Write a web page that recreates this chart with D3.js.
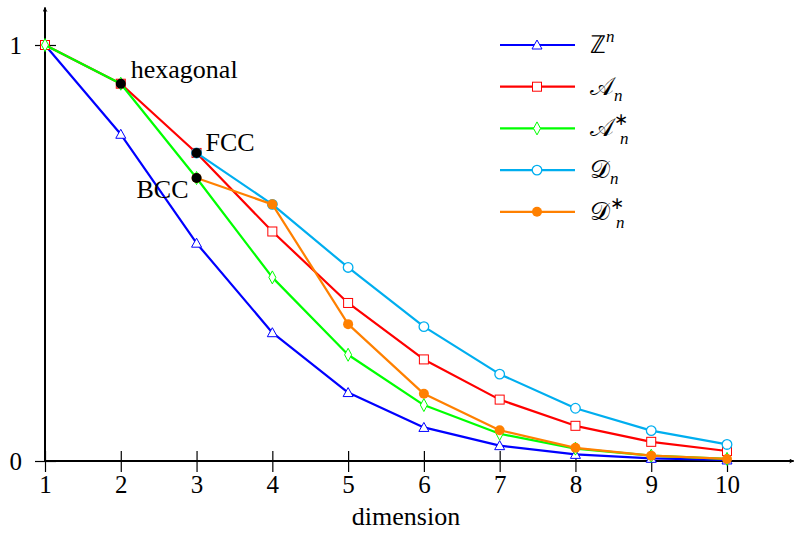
<!DOCTYPE html>
<html>
<head>
<meta charset="utf-8">
<script src="https://cdn.jsdelivr.net/npm/d3@7"></script>
<style>
  body { margin: 0; background: #fff; }
</style>
</head>
<body>
<div id="chart"></div>
<script>
// packing density per dimension
const dims = [1, 2, 3, 4, 5, 6, 7, 8, 9, 10];
const zn     = [1, 0.7854, 0.5236, 0.3084, 0.1645, 0.0807, 0.0369, 0.0159, 0.0064, 0.0025];
const an     = [1, 0.9069, 0.7405, 0.5517, 0.3799, 0.2442, 0.1476, 0.0846, 0.0461, 0.0240];
const anStar = [1, 0.9069, 0.6802, 0.4414, 0.2554, 0.1345, 0.0654, 0.0297, 0.0127, 0.0051];
const dnDims = [3, 4, 5, 6, 7, 8, 9, 10];
const dn     = [0.7405, 0.6169, 0.4653, 0.3230, 0.2088, 0.1268, 0.0729, 0.0398];
const dnStar = [0.6802, 0.6169, 0.3290, 0.1615, 0.0738, 0.0317, 0.0129, 0.0050];
const xTicks = [1, 2, 3, 4, 5, 6, 7, 8, 9, 10];
const yTicks = [0, 1];
const special = [
  {x: 2, y: 0.9069, label: "hexagonal"},
  {x: 3, y: 0.7405, label: "FCC"},
  {x: 3, y: 0.6802, label: "BCC"}
];

const series = [
  {name: "ℤ", sup: "n", sub: "", xs: dims, ys: zn, color: "#0000ff", marker: "triangle"},
  {name: "𝒜", sup: "", sub: "n", xs: dims, ys: an, color: "#ff0000", marker: "square"},
  {name: "𝒜", sup: "∗", sub: "n", xs: dims, ys: anStar, color: "#00ff00", marker: "diamond"},
  {name: "𝒟", sup: "", sub: "n", xs: dnDims, ys: dn, color: "#00aeef", marker: "circle"},
  {name: "𝒟", sup: "∗", sub: "n", xs: dnDims, ys: dnStar, color: "#ff8000", marker: "dot"}
];

const serif = "'Liberation Serif', 'Times New Roman', serif";
const width = 794, height = 533;
const svg = d3.select("#chart").append("svg")
  .attr("width", width).attr("height", height);

const x = d3.scaleLinear().domain([1, 10]).range([45, 727]);
const y = d3.scaleLinear().domain([0, 1]).range([461, 45]);

// axes
svg.append("defs").append("marker")
  .attr("id", "arrow").attr("viewBox", "0 0 10 10")
  .attr("refX", 9).attr("refY", 5)
  .attr("markerWidth", 5).attr("markerHeight", 5)
  .attr("markerUnits", "userSpaceOnUse")
  .attr("orient", "auto")
  .append("path").attr("d", "M0,0 L10,5 L0,10 L3,5 Z").attr("fill", "#000");

svg.append("line")
  .attr("x1", x(1)).attr("x2", x(10.88))
  .attr("y1", y(0)).attr("y2", y(0))
  .attr("stroke", "#000").attr("stroke-width", 2)
  .attr("marker-end", "url(#arrow)");
svg.append("line")
  .attr("x1", x(1)).attr("x2", x(1))
  .attr("y1", y(0)).attr("y2", y(1.09))
  .attr("stroke", "#000").attr("stroke-width", 2)
  .attr("marker-end", "url(#arrow)");

const xAxis = d3.axisBottom(x).tickValues(xTicks).tickSize(0).tickPadding(0);
const gx = svg.append("g").attr("transform", `translate(0,${y(0)})`).call(xAxis);
gx.select(".domain").remove();
gx.selectAll(".tick line").attr("y1", -10).attr("y2", 11).attr("stroke", "#000").attr("stroke-width", 1.2);
gx.selectAll(".tick text")
  .attr("y", 32).attr("dy", null)
  .attr("font-size", 25).attr("fill", "#000")
  .style("font-family", serif);

const yAxis = d3.axisLeft(y).tickValues(yTicks).tickSize(0).tickPadding(0).tickFormat(d3.format("d"));
const gy = svg.append("g").attr("transform", `translate(${x(1)},0)`).call(yAxis);
gy.select(".domain").remove();
gy.selectAll(".tick line").attr("x1", -10).attr("x2", 11).attr("stroke", "#000").attr("stroke-width", 1.2);
gy.selectAll(".tick text")
  .attr("x", -23).attr("dy", "0.34em")
  .attr("font-size", 25).attr("fill", "#000")
  .style("font-family", serif);

svg.append("text")
  .attr("x", 406).attr("y", 525)
  .attr("text-anchor", "middle").attr("font-size", 26)
  .style("font-family", serif)
  .text("dimension");

// marker drawing
function drawMarker(g, type, color, cx, cy) {
  if (type === "triangle") {
    g.append("path").attr("d", `M${cx},${cy - 5} L${cx + 5},${cy + 4} L${cx - 5},${cy + 4} Z`)
      .attr("fill", "#fff").attr("stroke", color).attr("stroke-width", 1);
  } else if (type === "square") {
    g.append("rect").attr("x", cx - 4.5).attr("y", cy - 4.5).attr("width", 9).attr("height", 9)
      .attr("fill", "#fff").attr("stroke", color).attr("stroke-width", 1);
  } else if (type === "diamond") {
    g.append("path").attr("d", `M${cx},${cy - 6.5} L${cx + 3.5},${cy} L${cx},${cy + 6.5} L${cx - 3.5},${cy} Z`)
      .attr("fill", "#fff").attr("stroke", color).attr("stroke-width", 1);
  } else if (type === "circle") {
    g.append("circle").attr("cx", cx).attr("cy", cy).attr("r", 4.8)
      .attr("fill", "#fff").attr("stroke", color).attr("stroke-width", 1.3);
  } else {
    g.append("circle").attr("cx", cx).attr("cy", cy).attr("r", 5)
      .attr("fill", color);
  }
}

const line = d3.line().x(d => x(d[0])).y(d => y(d[1]));

series.forEach(s => {
  const pts = s.xs.map((v, i) => [v, s.ys[i]]);
  const g = svg.append("g");
  g.append("path").attr("d", line(pts))
    .attr("fill", "none").attr("stroke", s.color).attr("stroke-width", 2.2)
    .attr("stroke-linejoin", "round");
  pts.forEach(p => drawMarker(g, s.marker, s.color, x(p[0]), y(p[1])));
});

// named lattices
special.forEach(p => {
  svg.append("circle").attr("cx", x(p.x)).attr("cy", y(p.y)).attr("r", 5).attr("fill", "#000");
});
const labelPos = {
  hexagonal: {dx: 10, dy: -6, anchor: "start"},
  FCC: {dx: 9, dy: -2, anchor: "start"},
  BCC: {dx: -8, dy: 20, anchor: "end"}
};
special.forEach(p => {
  const o = labelPos[p.label];
  svg.append("text").attr("x", x(p.x) + o.dx).attr("y", y(p.y) + o.dy)
    .attr("text-anchor", o.anchor).attr("font-size", 26)
    .style("font-family", serif).text(p.label);
});

// legend
const legend = svg.append("g");
series.forEach((s, i) => {
  const ly = 45 + i * 41.7;
  legend.append("line").attr("x1", 500).attr("x2", 575).attr("y1", ly).attr("y2", ly)
    .attr("stroke", s.color).attr("stroke-width", 2.2);
  drawMarker(legend, s.marker, s.color, 537, ly);
  const t = legend.append("text").attr("x", 590).attr("y", ly + 8).attr("font-size", 25)
    .style("font-family", serif);
  t.append("tspan").text(s.name);
  if (s.sup && s.sub) {
    t.append("tspan").attr("font-size", 17).attr("dy", -11).text(s.sup);
    t.append("tspan").attr("font-size", 17).attr("font-style", "italic").attr("dx", -8).attr("dy", 19).text(s.sub);
  } else if (s.sup) {
    t.append("tspan").attr("font-size", 17).attr("font-style", "italic").attr("dy", -11).text(s.sup);
  } else {
    t.append("tspan").attr("font-size", 17).attr("font-style", "italic").attr("dy", 6).text(s.sub);
  }
});
</script>
</body>
</html>
